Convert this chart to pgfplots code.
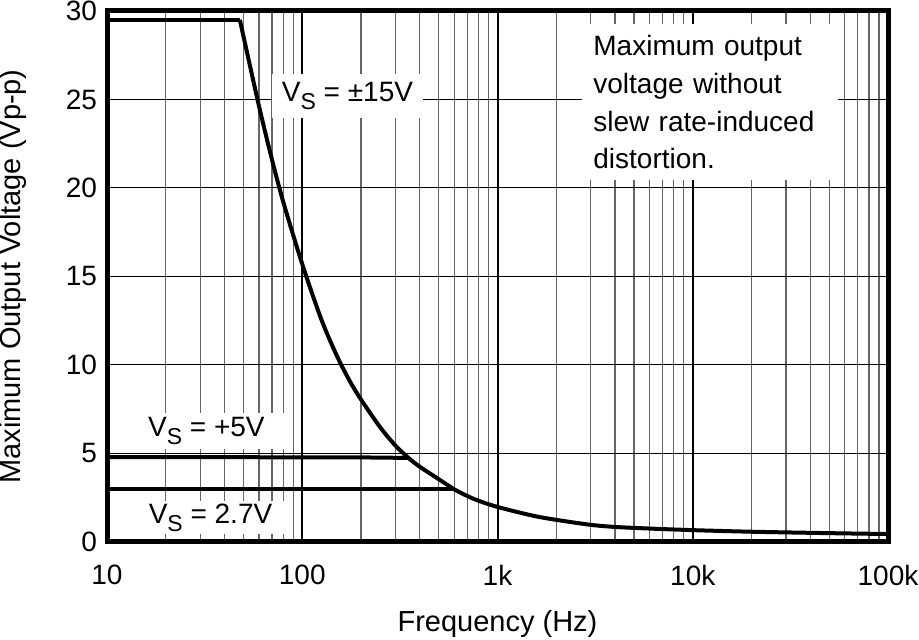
\documentclass[border=0pt]{standalone}
\usepackage{pgfplots}
\pgfplotsset{compat=1.18}
\usepackage{fontspec}
\setmainfont{Liberation Sans}
\newcommand{\VS}{V\raisebox{-4pt}{\fontsize{11.5}{11.5}\selectfont S}}
\begin{document}
\begin{tikzpicture}
\begin{axis}[
  at={(0,0)}, anchor=south west,
  scale only axis, width=390.5pt, height=265.5pt,
  xmode=log, log basis x=10,
  xmin=10, xmax=100000, ymin=0, ymax=30,
  xtick={10,100,1000,10000,100000},
  xticklabels={10,100,1k,10k,100k},
  minor xtick={20,30,40,50,60,70,80,90,200,300,400,500,600,700,800,900,2000,3000,4000,5000,6000,7000,8000,9000,20000,30000,40000,50000,60000,70000,80000,90000},
  ytick={0,5,10,15,20,25,30},
  major tick length=0pt, minor tick length=0pt,
  xmajorgrids, xminorgrids, ymajorgrids,
  major x grid style={black, line width=1pt},
  minor x grid style={black!60, line width=0.6pt},
  major y grid style={black, line width=0.5pt},
  axis line style={black, line width=2.5pt},
  /pgf/number format/assume math mode=true,
  tick label style={font=\fontsize{14}{14}\selectfont},
  xticklabel style={yshift=-8pt},
  yticklabel style={xshift=-1.5pt},
  xlabel={Frequency (Hz)},
  ylabel={Maximum Output Voltage (Vp-p)},
  label style={font=\fontsize{14.5}{14.5}\selectfont},
  xlabel style={at={(axis description cs:0.5,-0.1544)}, anchor=center},
  ylabel style={at={(axis description cs:-0.1203,0.5)}, anchor=center, rotate=0},
  clip=true,
]
\node[fill=white, font=\fontsize{14}{14}\selectfont, anchor=base, inner xsep=5pt, inner ysep=4pt] at (axis cs:170.5,24.88) {\VS{} = ±15V};
\node[fill=white, font=\fontsize{14}{14}\selectfont, anchor=base, inner xsep=10pt, inner ysep=2pt] at (axis cs:32.3,5.95) {\VS{} = +5V};
\node[fill=white, font=\fontsize{14}{14}\selectfont, anchor=base, inner xsep=10pt, inner ysep=1.5pt] at (axis cs:33.9,1.07) {\VS{} = 2.7V};
\node[fill=white, align=left, text width=117pt, anchor=north west, inner xsep=5.5pt, inner ysep=5.5pt,
  font=\fontsize{14}{18.85}\selectfont] at (axis cs:2709,29.27)
  {Maximum output\\voltage without\\slew rate-induced\\distortion.};
% +5 V
\addplot[black, line width=2pt] coordinates {(10,4.8) (200,4.78) (350,4.75)};
% 2.7 V
\addplot[black, line width=2pt] coordinates {(10,2.97) (600,2.97)};
% +-15 V
\addplot[black, line width=2pt] coordinates {(10,29.5) (47.9,29.5)};
\addplot[black, line width=2pt, smooth] coordinates {
(47.9,29.5) (54,26.9) (60.7,24.4) (70,21.6) (80,19.2) (100,15.7) (125,12.6)
(150,10.55) (175,9.1) (200,8.05) (250,6.5) (300,5.45) (350,4.75) (400,4.25)
(500,3.55) (600,2.98) (700,2.6) (800,2.33) (1000,1.98) (1500,1.5) (2000,1.25)
(3000,0.97) (4000,0.85) (6000,0.76) (10000,0.67) (20000,0.58) (50000,0.5) (100000,0.45)};
\end{axis}
\pgfresetboundingbox
\path (-53.5pt,-49pt) rectangle (406pt,271pt);
\end{tikzpicture}
\end{document}
